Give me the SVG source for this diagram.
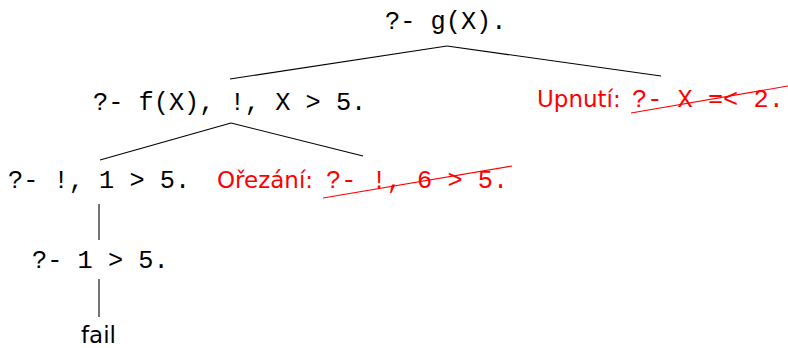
<svg xmlns="http://www.w3.org/2000/svg" width="788" height="348" viewBox="0 0 788 348">
<style>
.mono{font-family:"Liberation Mono","DejaVu Sans Mono",monospace;font-size:25.3px;fill:#000}
.sans{font-family:"DejaVu Sans","Liberation Sans",sans-serif;font-size:23px;fill:#000}
.red{fill:#ff0000}
.edge{stroke:#000;stroke-width:1.1;fill:none}
.strike{stroke:#ff0000;stroke-width:1.1;fill:none}
</style>
<rect width="788" height="348" fill="#fff"/>
<g id="connectors">
<line class="edge" x1="447" y1="46" x2="230" y2="79"/>
<line class="edge" x1="447" y1="46" x2="661" y2="76"/>
<line class="edge" x1="231" y1="123" x2="100" y2="160"/>
<line class="edge" x1="231" y1="123" x2="363" y2="156"/>
<line class="edge" x1="99" y1="204" x2="99" y2="240"/>
<line class="edge" x1="99" y1="279" x2="99" y2="317"/>
</g>
<g id="root"><text class="mono" x="385" y="29">?- g(X).</text></g>
<g id="n1"><text class="mono" x="93" y="110">?- f(X), !, X &gt; 5.</text></g>
<g id="upnuti">
<text class="sans red" x="537" y="107">Upnutí:</text>
<text class="mono red" x="632" y="107">?- X =&lt; 2.</text>
<line class="strike" x1="631" y1="113" x2="788" y2="86"/>
</g>
<g id="n2"><text class="mono" x="8" y="188">?- !, 1 &gt; 5.</text></g>
<g id="orezani">
<text class="sans red" x="217" y="188">Ořezání:</text>
<text class="mono red" x="326" y="188">?- !, 6 &gt; 5.</text>
<line class="strike" x1="323" y1="198" x2="512" y2="166"/>
</g>
<g id="n3"><text class="mono" x="32" y="268">?- 1 &gt; 5.</text></g>
<g id="fail"><text class="sans" x="81" y="343">fail</text></g>
</svg>
